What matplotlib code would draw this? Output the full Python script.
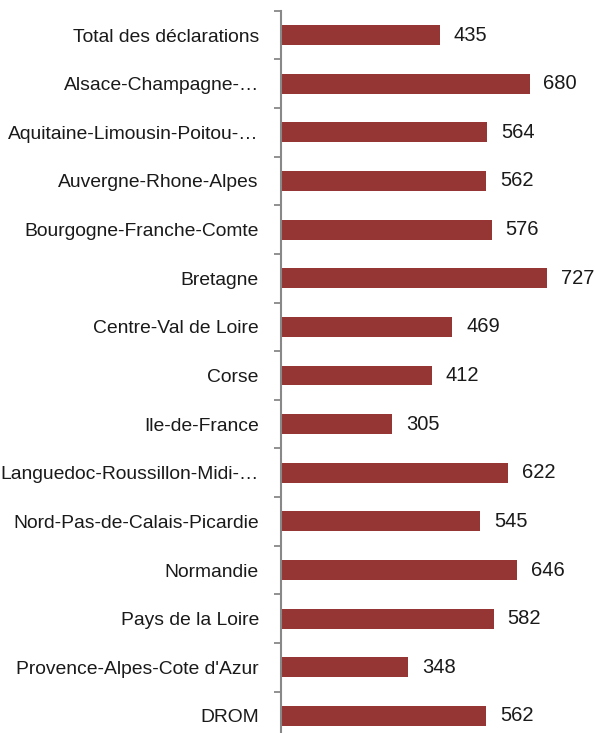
import numpy as np
import matplotlib.pyplot as plt

regions = ["Total des déclarations", "Alsace-Champagne-…", "Aquitaine-Limousin-Poitou-…",
           "Auvergne-Rhone-Alpes", "Bourgogne-Franche-Comte", "Bretagne",
           "Centre-Val de Loire", "Corse", "Ile-de-France",
           "Languedoc-Roussillon-Midi-…", "Nord-Pas-de-Calais-Picardie", "Normandie",
           "Pays de la Loire", "Provence-Alpes-Cote d'Azur", "DROM"]
values = [435, 680, 564, 562, 576, 727, 469, 412, 305, 622, 545, 646, 582, 348, 562]

plt.rcParams['font.family'] = ['Liberation Sans', 'DejaVu Sans']

fig = plt.figure(figsize=(5.95, 7.33), dpi=100)
ax = fig.add_axes([281 / 595, -7.3 / 733, 310 / 595, (740.3 - 10.7) / 733])

y = np.arange(len(regions))
ax.barh(y, values, height=0.41, color='#963634')
for yi, v in zip(y, values):
    ax.text(v + 38, yi, str(v), va='center', ha='left', fontsize=14.5, color='#1a1a1a')

ax.set_xlim(0, 310 / 0.3655)
ax.set_ylim(len(regions) - 0.5, -0.5)
ax.set_yticks(y)
ax.set_yticklabels(regions, fontsize=13.9, color='#1a1a1a')
ax.tick_params(axis='y', which='major', length=0, pad=16)
ax.set_yticks(np.arange(len(regions) + 1) - 0.5, minor=True)
ax.tick_params(axis='y', which='minor', length=5, width=1.3, color='#888888')
ax.set_xticks([])
for s in ['top', 'right', 'bottom']:
    ax.spines[s].set_visible(False)
ax.spines['left'].set_color('#888888')
ax.spines['left'].set_linewidth(1.5)

fig.savefig('out.png', dpi=100)
